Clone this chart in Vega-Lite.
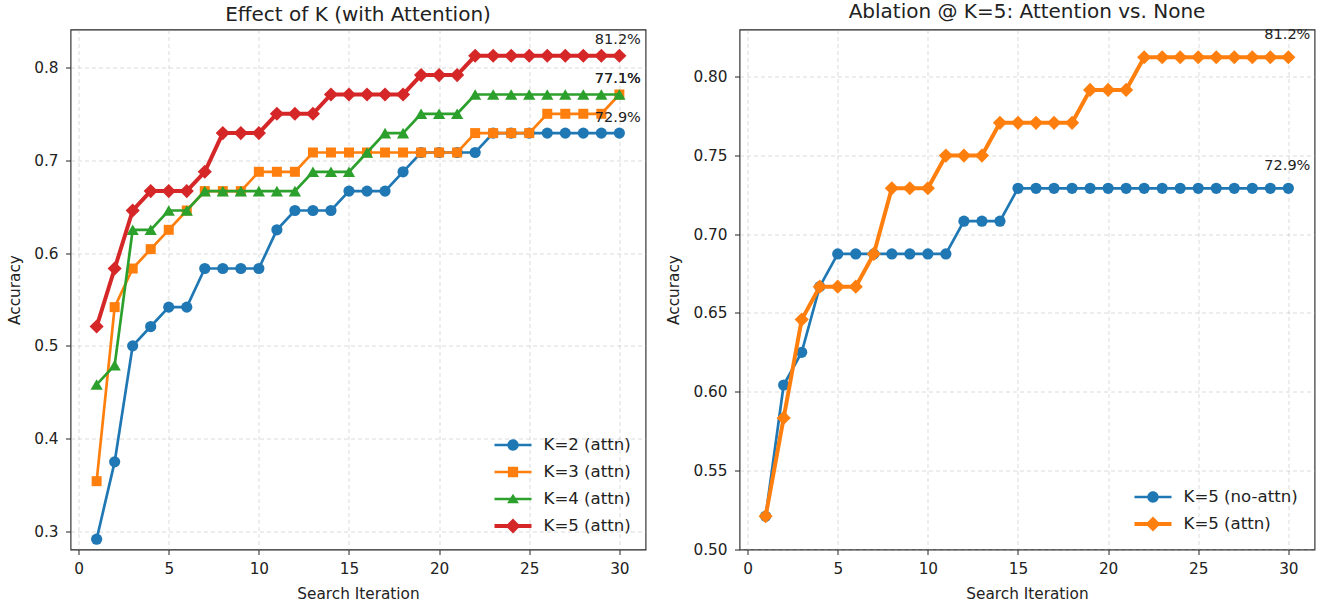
{
  "$schema": "https://vega.github.io/schema/vega-lite/v6.json",
  "background": "white",
  "padding": {"left": 6.5, "top": 1.5, "right": 8, "bottom": 0},
  "spacing": 19,
  "config": {
    "font": "DejaVu Sans",
    "view": {"stroke": "#222", "strokeWidth": 1.1},
    "axis": {"domain": false, "grid": true, "gridDash": [4, 3], "gridColor": "#b0b0b0", "gridOpacity": 0.45, "gridWidth": 1,
      "tickColor": "#222", "tickSize": 5, "tickWidth": 1,
      "labelFont": "DejaVu Sans", "labelFontSize": 15.3, "labelColor": "#222",
      "titleFont": "DejaVu Sans", "titleFontSize": 15.3, "titleFontWeight": "normal", "titleColor": "#222"},
    "axisX": {"labelPadding": 7, "titlePadding": 10},
    "axisY": {"labelPadding": 7.5, "titlePadding": 11},
    "title": {"font": "DejaVu Sans", "fontSize": 20, "fontWeight": "normal", "color": "#222", "offset": 4.5},
    "legend": {"title": null, "orient": "bottom-right", "offset": 14, "padding": 0, "symbolSize": 100, "labelOffset": 13, "rowPadding": 0,
      "labelFont": "DejaVu Sans", "labelFontSize": 16.6, "labelColor": "#222", "symbolStrokeWidth": 0}
  },
  "datasets": {
    "left": [
      {"s":"K=2 (attn)","i":1,"a":0.2917},{"s":"K=2 (attn)","i":2,"a":0.375},{"s":"K=2 (attn)","i":3,"a":0.5},{"s":"K=2 (attn)","i":4,"a":0.5208},{"s":"K=2 (attn)","i":5,"a":0.5417},{"s":"K=2 (attn)","i":6,"a":0.5417},{"s":"K=2 (attn)","i":7,"a":0.5833},{"s":"K=2 (attn)","i":8,"a":0.5833},{"s":"K=2 (attn)","i":9,"a":0.5833},{"s":"K=2 (attn)","i":10,"a":0.5833},
      {"s":"K=2 (attn)","i":11,"a":0.625},{"s":"K=2 (attn)","i":12,"a":0.6458},{"s":"K=2 (attn)","i":13,"a":0.6458},{"s":"K=2 (attn)","i":14,"a":0.6458},{"s":"K=2 (attn)","i":15,"a":0.6667},{"s":"K=2 (attn)","i":16,"a":0.6667},{"s":"K=2 (attn)","i":17,"a":0.6667},{"s":"K=2 (attn)","i":18,"a":0.6875},{"s":"K=2 (attn)","i":19,"a":0.7083},{"s":"K=2 (attn)","i":20,"a":0.7083},
      {"s":"K=2 (attn)","i":21,"a":0.7083},{"s":"K=2 (attn)","i":22,"a":0.7083},{"s":"K=2 (attn)","i":23,"a":0.7292},{"s":"K=2 (attn)","i":24,"a":0.7292},{"s":"K=2 (attn)","i":25,"a":0.7292},{"s":"K=2 (attn)","i":26,"a":0.7292},{"s":"K=2 (attn)","i":27,"a":0.7292},{"s":"K=2 (attn)","i":28,"a":0.7292},{"s":"K=2 (attn)","i":29,"a":0.7292},{"s":"K=2 (attn)","i":30,"a":0.7292},
      {"s":"K=3 (attn)","i":1,"a":0.3542},{"s":"K=3 (attn)","i":2,"a":0.5417},{"s":"K=3 (attn)","i":3,"a":0.5833},{"s":"K=3 (attn)","i":4,"a":0.6042},{"s":"K=3 (attn)","i":5,"a":0.625},{"s":"K=3 (attn)","i":6,"a":0.6458},{"s":"K=3 (attn)","i":7,"a":0.6667},{"s":"K=3 (attn)","i":8,"a":0.6667},{"s":"K=3 (attn)","i":9,"a":0.6667},{"s":"K=3 (attn)","i":10,"a":0.6875},
      {"s":"K=3 (attn)","i":11,"a":0.6875},{"s":"K=3 (attn)","i":12,"a":0.6875},{"s":"K=3 (attn)","i":13,"a":0.7083},{"s":"K=3 (attn)","i":14,"a":0.7083},{"s":"K=3 (attn)","i":15,"a":0.7083},{"s":"K=3 (attn)","i":16,"a":0.7083},{"s":"K=3 (attn)","i":17,"a":0.7083},{"s":"K=3 (attn)","i":18,"a":0.7083},{"s":"K=3 (attn)","i":19,"a":0.7083},{"s":"K=3 (attn)","i":20,"a":0.7083},
      {"s":"K=3 (attn)","i":21,"a":0.7083},{"s":"K=3 (attn)","i":22,"a":0.7292},{"s":"K=3 (attn)","i":23,"a":0.7292},{"s":"K=3 (attn)","i":24,"a":0.7292},{"s":"K=3 (attn)","i":25,"a":0.7292},{"s":"K=3 (attn)","i":26,"a":0.75},{"s":"K=3 (attn)","i":27,"a":0.75},{"s":"K=3 (attn)","i":28,"a":0.75},{"s":"K=3 (attn)","i":29,"a":0.75},{"s":"K=3 (attn)","i":30,"a":0.7708},
      {"s":"K=4 (attn)","i":1,"a":0.4583},{"s":"K=4 (attn)","i":2,"a":0.4792},{"s":"K=4 (attn)","i":3,"a":0.625},{"s":"K=4 (attn)","i":4,"a":0.625},{"s":"K=4 (attn)","i":5,"a":0.6458},{"s":"K=4 (attn)","i":6,"a":0.6458},{"s":"K=4 (attn)","i":7,"a":0.6667},{"s":"K=4 (attn)","i":8,"a":0.6667},{"s":"K=4 (attn)","i":9,"a":0.6667},{"s":"K=4 (attn)","i":10,"a":0.6667},
      {"s":"K=4 (attn)","i":11,"a":0.6667},{"s":"K=4 (attn)","i":12,"a":0.6667},{"s":"K=4 (attn)","i":13,"a":0.6875},{"s":"K=4 (attn)","i":14,"a":0.6875},{"s":"K=4 (attn)","i":15,"a":0.6875},{"s":"K=4 (attn)","i":16,"a":0.7083},{"s":"K=4 (attn)","i":17,"a":0.7292},{"s":"K=4 (attn)","i":18,"a":0.7292},{"s":"K=4 (attn)","i":19,"a":0.75},{"s":"K=4 (attn)","i":20,"a":0.75},
      {"s":"K=4 (attn)","i":21,"a":0.75},{"s":"K=4 (attn)","i":22,"a":0.7708},{"s":"K=4 (attn)","i":23,"a":0.7708},{"s":"K=4 (attn)","i":24,"a":0.7708},{"s":"K=4 (attn)","i":25,"a":0.7708},{"s":"K=4 (attn)","i":26,"a":0.7708},{"s":"K=4 (attn)","i":27,"a":0.7708},{"s":"K=4 (attn)","i":28,"a":0.7708},{"s":"K=4 (attn)","i":29,"a":0.7708},{"s":"K=4 (attn)","i":30,"a":0.7708},
      {"s":"K=5 (attn)","i":1,"a":0.5208},{"s":"K=5 (attn)","i":2,"a":0.5833},{"s":"K=5 (attn)","i":3,"a":0.6458},{"s":"K=5 (attn)","i":4,"a":0.6667},{"s":"K=5 (attn)","i":5,"a":0.6667},{"s":"K=5 (attn)","i":6,"a":0.6667},{"s":"K=5 (attn)","i":7,"a":0.6875},{"s":"K=5 (attn)","i":8,"a":0.7292},{"s":"K=5 (attn)","i":9,"a":0.7292},{"s":"K=5 (attn)","i":10,"a":0.7292},
      {"s":"K=5 (attn)","i":11,"a":0.75},{"s":"K=5 (attn)","i":12,"a":0.75},{"s":"K=5 (attn)","i":13,"a":0.75},{"s":"K=5 (attn)","i":14,"a":0.7708},{"s":"K=5 (attn)","i":15,"a":0.7708},{"s":"K=5 (attn)","i":16,"a":0.7708},{"s":"K=5 (attn)","i":17,"a":0.7708},{"s":"K=5 (attn)","i":18,"a":0.7708},{"s":"K=5 (attn)","i":19,"a":0.7917},{"s":"K=5 (attn)","i":20,"a":0.7917},
      {"s":"K=5 (attn)","i":21,"a":0.7917},{"s":"K=5 (attn)","i":22,"a":0.8125},{"s":"K=5 (attn)","i":23,"a":0.8125},{"s":"K=5 (attn)","i":24,"a":0.8125},{"s":"K=5 (attn)","i":25,"a":0.8125},{"s":"K=5 (attn)","i":26,"a":0.8125},{"s":"K=5 (attn)","i":27,"a":0.8125},{"s":"K=5 (attn)","i":28,"a":0.8125},{"s":"K=5 (attn)","i":29,"a":0.8125},{"s":"K=5 (attn)","i":30,"a":0.8125}
    ],
    "right": [
      {"s":"K=5 (no-attn)","i":1,"a":0.5208},{"s":"K=5 (no-attn)","i":2,"a":0.6042},{"s":"K=5 (no-attn)","i":3,"a":0.625},{"s":"K=5 (no-attn)","i":4,"a":0.6667},{"s":"K=5 (no-attn)","i":5,"a":0.6875},{"s":"K=5 (no-attn)","i":6,"a":0.6875},{"s":"K=5 (no-attn)","i":7,"a":0.6875},{"s":"K=5 (no-attn)","i":8,"a":0.6875},{"s":"K=5 (no-attn)","i":9,"a":0.6875},{"s":"K=5 (no-attn)","i":10,"a":0.6875},
      {"s":"K=5 (no-attn)","i":11,"a":0.6875},{"s":"K=5 (no-attn)","i":12,"a":0.7083},{"s":"K=5 (no-attn)","i":13,"a":0.7083},{"s":"K=5 (no-attn)","i":14,"a":0.7083},{"s":"K=5 (no-attn)","i":15,"a":0.7292},{"s":"K=5 (no-attn)","i":16,"a":0.7292},{"s":"K=5 (no-attn)","i":17,"a":0.7292},{"s":"K=5 (no-attn)","i":18,"a":0.7292},{"s":"K=5 (no-attn)","i":19,"a":0.7292},{"s":"K=5 (no-attn)","i":20,"a":0.7292},
      {"s":"K=5 (no-attn)","i":21,"a":0.7292},{"s":"K=5 (no-attn)","i":22,"a":0.7292},{"s":"K=5 (no-attn)","i":23,"a":0.7292},{"s":"K=5 (no-attn)","i":24,"a":0.7292},{"s":"K=5 (no-attn)","i":25,"a":0.7292},{"s":"K=5 (no-attn)","i":26,"a":0.7292},{"s":"K=5 (no-attn)","i":27,"a":0.7292},{"s":"K=5 (no-attn)","i":28,"a":0.7292},{"s":"K=5 (no-attn)","i":29,"a":0.7292},{"s":"K=5 (no-attn)","i":30,"a":0.7292},
      {"s":"K=5 (attn)","i":1,"a":0.5208},{"s":"K=5 (attn)","i":2,"a":0.5833},{"s":"K=5 (attn)","i":3,"a":0.6458},{"s":"K=5 (attn)","i":4,"a":0.6667},{"s":"K=5 (attn)","i":5,"a":0.6667},{"s":"K=5 (attn)","i":6,"a":0.6667},{"s":"K=5 (attn)","i":7,"a":0.6875},{"s":"K=5 (attn)","i":8,"a":0.7292},{"s":"K=5 (attn)","i":9,"a":0.7292},{"s":"K=5 (attn)","i":10,"a":0.7292},
      {"s":"K=5 (attn)","i":11,"a":0.75},{"s":"K=5 (attn)","i":12,"a":0.75},{"s":"K=5 (attn)","i":13,"a":0.75},{"s":"K=5 (attn)","i":14,"a":0.7708},{"s":"K=5 (attn)","i":15,"a":0.7708},{"s":"K=5 (attn)","i":16,"a":0.7708},{"s":"K=5 (attn)","i":17,"a":0.7708},{"s":"K=5 (attn)","i":18,"a":0.7708},{"s":"K=5 (attn)","i":19,"a":0.7917},{"s":"K=5 (attn)","i":20,"a":0.7917},
      {"s":"K=5 (attn)","i":21,"a":0.7917},{"s":"K=5 (attn)","i":22,"a":0.8125},{"s":"K=5 (attn)","i":23,"a":0.8125},{"s":"K=5 (attn)","i":24,"a":0.8125},{"s":"K=5 (attn)","i":25,"a":0.8125},{"s":"K=5 (attn)","i":26,"a":0.8125},{"s":"K=5 (attn)","i":27,"a":0.8125},{"s":"K=5 (attn)","i":28,"a":0.8125},{"s":"K=5 (attn)","i":29,"a":0.8125},{"s":"K=5 (attn)","i":30,"a":0.8125}
    ],
    "leftLabels": [
      {"i":30,"a":0.8125,"t":"81.2%"},{"i":30,"a":0.7708,"t":"77.1%"},{"i":30,"a":0.7708,"t":"77.1%"},{"i":30,"a":0.7292,"t":"72.9%"}
    ],
    "rightLabels": [
      {"i":30,"a":0.8125,"t":"81.2%"},{"i":30,"a":0.7292,"t":"72.9%"}
    ]
  },
  "resolve": {"scale": {"color": "independent", "x": "independent", "y": "independent"}, "legend": {"color": "independent"}},
  "hconcat": [
    {
      "title": "Effect of K (with Attention)",
      "width": 575,
      "height": 520,
      "encoding": {
        "x": {"field": "i", "type": "quantitative", "scale": {"domain": [-0.45, 31.45], "nice": false, "zero": false}, "axis": {"values": [0, 5, 10, 15, 20, 25, 30], "title": "Search Iteration"}},
        "y": {"field": "a", "type": "quantitative", "scale": {"domain": [0.2806, 0.8408], "nice": false, "zero": false}, "axis": {"values": [0.3, 0.4, 0.5, 0.6, 0.7, 0.8], "format": ".1f", "title": "Accuracy"}}
      },
      "layer": [
        {"data": {"name": "left"}, "transform": [{"filter": "datum.s === 'K=2 (attn)'"}], "mark": {"type": "line", "strokeWidth": 2.7},
         "encoding": {"color": {"field": "s", "type": "nominal", "scale": {"domain": ["K=2 (attn)", "K=3 (attn)", "K=4 (attn)", "K=5 (attn)"], "range": ["#1f77b4", "#ff7f0e", "#2ca02c", "#d62728"]},
           "legend": {"encode": {"symbols": {"update": {
             "shape": {"signal": "datum.value === 'K=2 (attn)' ? 'M-1.068,-0.078H1.068V0.078H-1.068ZM-0.329,0A0.329,0.329 0 1,1 0.329,0A0.329,0.329 0 1,1 -0.329,0Z' : datum.value === 'K=3 (attn)' ? 'M-1.068,-0.078H1.068V0.078H-1.068ZM-0.296,-0.296H0.296V0.296H-0.296Z' : datum.value === 'K=4 (attn)' ? 'M-1.068,-0.078H1.068V0.078H-1.068ZM0,-0.296L0.34,0.241L-0.34,0.241Z' : 'M-1.068,-0.115H1.068V0.115H-1.068ZM0,-0.428L0.428,0L0,0.428L-0.428,0Z'"},
             "fill": {"signal": "datum.value === 'K=2 (attn)' ? '#1f77b4' : datum.value === 'K=3 (attn)' ? '#ff7f0e' : datum.value === 'K=4 (attn)' ? '#2ca02c' : '#d62728'"},
             "size": {"value": 1200}, "strokeWidth": {"value": 0}, "opacity": {"value": 1}}}}}}}},
        {"data": {"name": "left"}, "transform": [{"filter": "datum.s === 'K=2 (attn)'"}], "mark": {"type": "point", "filled": true, "opacity": 1, "shape": "circle", "size": 125},
         "encoding": {"color": {"field": "s", "type": "nominal"}}},
        {"data": {"name": "left"}, "transform": [{"filter": "datum.s === 'K=3 (attn)'"}], "mark": {"type": "line", "strokeWidth": 2.7},
         "encoding": {"color": {"field": "s", "type": "nominal"}}},
        {"data": {"name": "left"}, "transform": [{"filter": "datum.s === 'K=3 (attn)'"}], "mark": {"type": "point", "filled": true, "opacity": 1, "shape": "square", "size": 100},
         "encoding": {"color": {"field": "s", "type": "nominal"}}},
        {"data": {"name": "left"}, "transform": [{"filter": "datum.s === 'K=4 (attn)'"}], "mark": {"type": "line", "strokeWidth": 2.7},
         "encoding": {"color": {"field": "s", "type": "nominal"}}},
        {"data": {"name": "left"}, "transform": [{"filter": "datum.s === 'K=4 (attn)'"}], "mark": {"type": "point", "filled": true, "opacity": 1, "shape": "triangle-up", "size": 150},
         "encoding": {"color": {"field": "s", "type": "nominal"}}},
        {"data": {"name": "left"}, "transform": [{"filter": "datum.s === 'K=5 (attn)'"}], "mark": {"type": "line", "strokeWidth": 4},
         "encoding": {"color": {"field": "s", "type": "nominal"}}},
        {"data": {"name": "left"}, "transform": [{"filter": "datum.s === 'K=5 (attn)'"}], "mark": {"type": "point", "filled": true, "opacity": 1, "shape": "diamond", "size": 200},
         "encoding": {"color": {"field": "s", "type": "nominal"}}},
        {"data": {"name": "leftLabels"}, "mark": {"type": "text", "align": "center", "baseline": "alphabetic", "dy": -11.5, "dx": -1.5, "fontSize": 14.5, "font": "DejaVu Sans", "color": "#222"},
         "encoding": {"text": {"field": "t", "type": "nominal"}}}
      ]
    },
    {
      "title": "Ablation @ K=5: Attention vs. None",
      "width": 575,
      "height": 520,
      "encoding": {
        "x": {"field": "i", "type": "quantitative", "scale": {"domain": [-0.45, 31.45], "nice": false, "zero": false}, "axis": {"values": [0, 5, 10, 15, 20, 25, 30], "title": "Search Iteration"}},
        "y": {"field": "a", "type": "quantitative", "scale": {"domain": [0.4997, 0.8301], "nice": false, "zero": false}, "axis": {"values": [0.5, 0.55, 0.6, 0.65, 0.7, 0.75, 0.8], "format": ".2f", "title": "Accuracy"}}
      },
      "layer": [
        {"data": {"name": "right"}, "transform": [{"filter": "datum.s === 'K=5 (no-attn)'"}], "mark": {"type": "line", "strokeWidth": 2.7},
         "encoding": {"color": {"field": "s", "type": "nominal", "scale": {"domain": ["K=5 (no-attn)", "K=5 (attn)"], "range": ["#1f77b4", "#ff7f0e"]},
           "legend": {"offset": 16, "encode": {"symbols": {"update": {
             "shape": {"signal": "datum.value === 'K=5 (no-attn)' ? 'M-1.068,-0.078H1.068V0.078H-1.068ZM-0.329,0A0.329,0.329 0 1,1 0.329,0A0.329,0.329 0 1,1 -0.329,0Z' : 'M-1.068,-0.115H1.068V0.115H-1.068ZM0,-0.428L0.428,0L0,0.428L-0.428,0Z'"},
             "fill": {"signal": "datum.value === 'K=5 (no-attn)' ? '#1f77b4' : '#ff7f0e'"},
             "size": {"value": 1200}, "strokeWidth": {"value": 0}, "opacity": {"value": 1}}}}}}}},
        {"data": {"name": "right"}, "transform": [{"filter": "datum.s === 'K=5 (no-attn)'"}], "mark": {"type": "point", "filled": true, "opacity": 1, "shape": "circle", "size": 125},
         "encoding": {"color": {"field": "s", "type": "nominal"}}},
        {"data": {"name": "right"}, "transform": [{"filter": "datum.s === 'K=5 (attn)'"}], "mark": {"type": "line", "strokeWidth": 4},
         "encoding": {"color": {"field": "s", "type": "nominal"}}},
        {"data": {"name": "right"}, "transform": [{"filter": "datum.s === 'K=5 (attn)'"}], "mark": {"type": "point", "filled": true, "opacity": 1, "shape": "diamond", "size": 200},
         "encoding": {"color": {"field": "s", "type": "nominal"}}},
        {"data": {"name": "rightLabels"}, "mark": {"type": "text", "align": "center", "baseline": "alphabetic", "dy": -18.5, "dx": -1, "fontSize": 14.5, "font": "DejaVu Sans", "color": "#222"},
         "encoding": {"text": {"field": "t", "type": "nominal"}}}
      ]
    }
  ]
}
